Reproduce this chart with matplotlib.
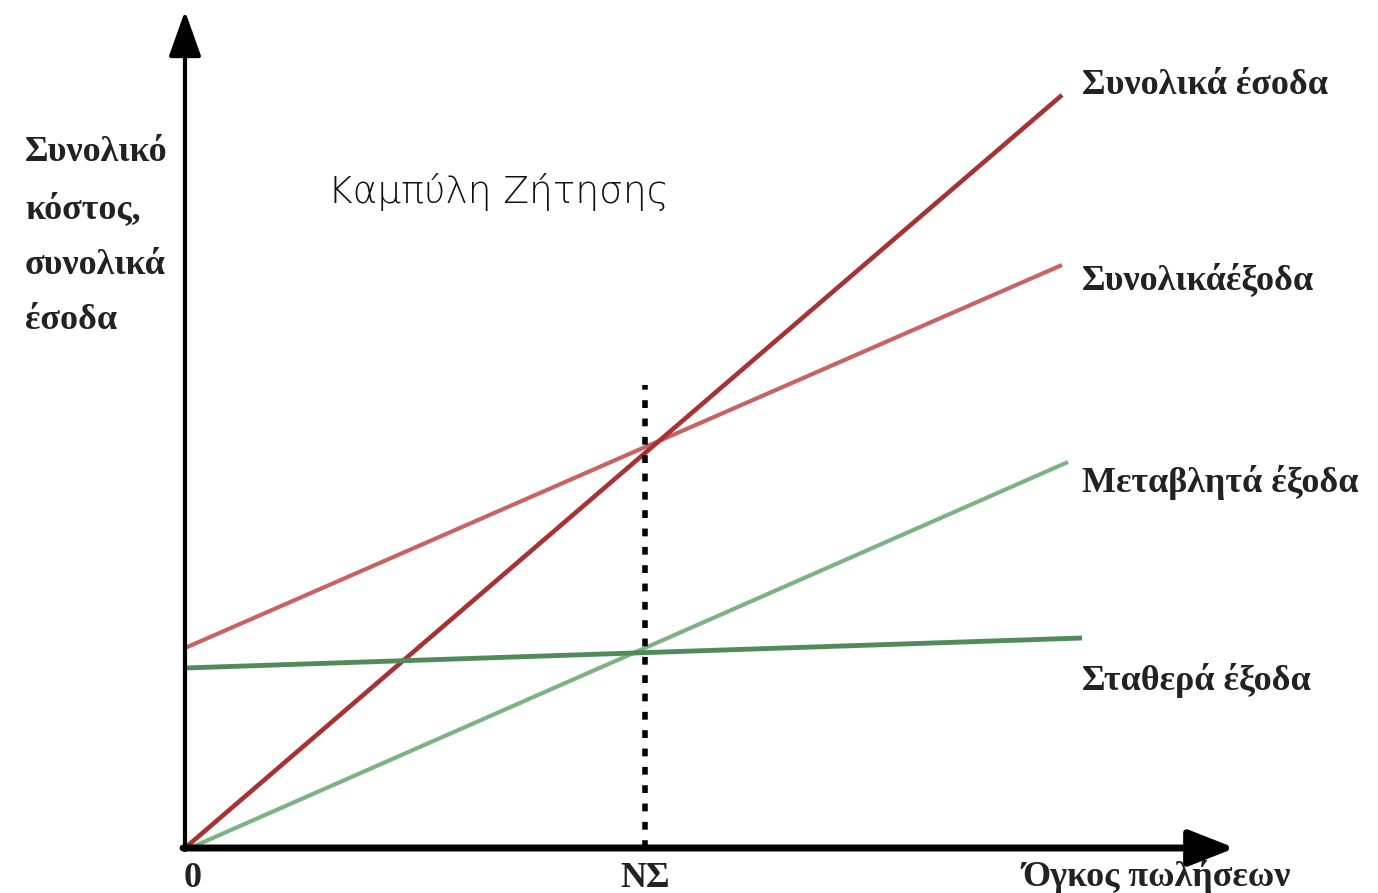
import matplotlib
matplotlib.use("Agg")
import matplotlib.pyplot as plt

# break-even chart, values in chart units (origin at 0, 0)
volume = [0, 877]
revenue = [0, 753]            # Συνολικά έσοδα
total_cost = [200, 583]       # Συνολικά έξοδα
variable_x = [5, 883]
variable_cost = [0, 386]      # Μεταβλητά έξοδα
fixed_x = [0, 897]
fixed_cost = [180, 210]       # Σταθερά έξοδα
break_even = 460              # ΝΣ
break_even_top = 463

line_labels = ["Συνολικά έσοδα", "Συνολικάέξοδα", "Μεταβλητά έξοδα", "Σταθερά έξοδα"]
label_y = [763, 568, 365, 168]
ylabel = "Συνολικό\nκόστος,\nσυνολικά\nέσοδα"
xlabel = "Όγκος πωλήσεων"
title = "Καμπύλη Ζήτησης"

fig = plt.figure(figsize=(13.78, 8.93), dpi=100)
ax = fig.add_axes([0, 0, 1, 1])
ax.set_xlim(-185, 1193)
ax.set_ylim(-45, 848)
ax.axis("off")

# lines
ax.plot(volume, total_cost, color="#c96262", lw=3, solid_capstyle="butt")
ax.plot(volume, revenue, color="#a83232", lw=3.3, solid_capstyle="butt")
ax.plot(variable_x, variable_cost, color="#7db284", lw=3, solid_capstyle="butt")
ax.plot(fixed_x, fixed_cost, color="#4f8c59", lw=3.5, solid_capstyle="butt")
ax.plot([break_even, break_even], [0, break_even_top], color="black", lw=4,
        linestyle=(0, (1.4, 1.9)), solid_capstyle="butt")

# axes with arrows
ax.annotate("", xy=(0, 837), xytext=(0, -2),
            arrowprops=dict(arrowstyle="-|>,head_length=1.4,head_width=0.5",
                            lw=3, color="black", mutation_scale=20,
                            shrinkA=0, shrinkB=0))
ax.annotate("", xy=(1050, 0), xytext=(-2, 0),
            arrowprops=dict(arrowstyle="-|>,head_length=1.4,head_width=0.55",
                            lw=5, color="black", mutation_scale=20,
                            shrinkA=0, shrinkB=0))

serif = dict(family="Liberation Serif", weight="bold", color="#222222")
ax.text(-160, 712, ylabel, fontsize=26, va="top", ha="left", linespacing=1.9, **serif)
for lab, y in zip(line_labels, label_y):
    ax.text(897, y, lab, fontsize=26, va="center", ha="left", **serif)

ax.text(8, -14, "0", fontsize=26, va="top", ha="center", **serif)
ax.text(break_even, -14, "ΝΣ", fontsize=26, va="top", ha="center", **serif)
ax.text(837, -12, xlabel, fontsize=26, va="top", ha="left", **serif)

ax.text(143, 656, title, fontsize=27, va="center", ha="left",
        family="DejaVu Sans", weight="light", color="#111111")

fig.savefig("out.png", dpi=100)
